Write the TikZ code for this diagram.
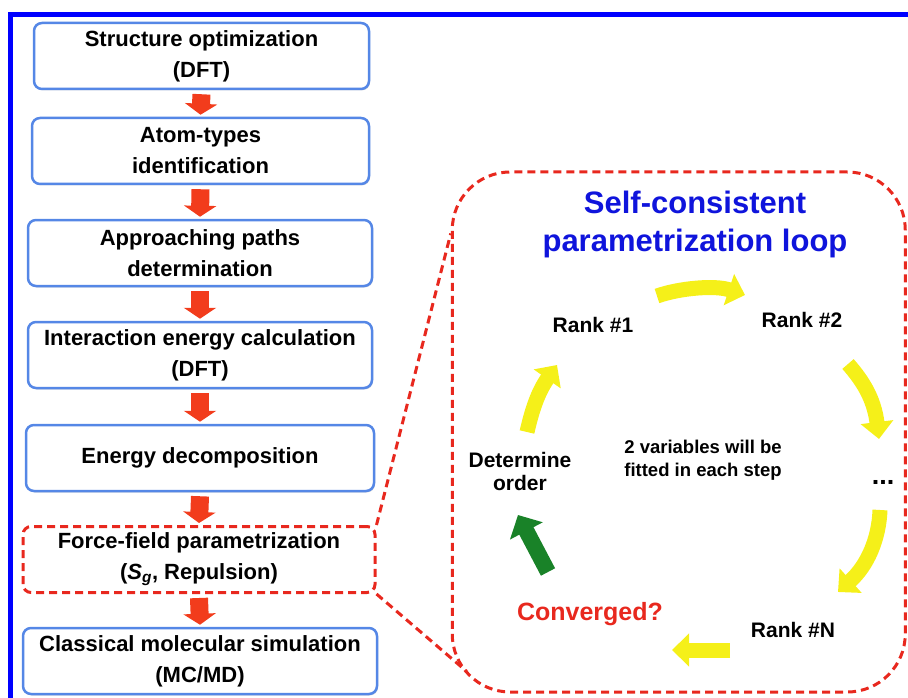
\documentclass[tikz,border=0pt]{standalone}
\usepackage{fontspec}
\setmainfont{Liberation Sans}
\usetikzlibrary{arrows.meta,shadows,calc}
\definecolor{frameblue}{RGB}{0,0,255}
\definecolor{boxblue}{RGB}{85,135,230}
\definecolor{zred}{RGB}{232,40,30}
\definecolor{ared}{RGB}{242,60,28}
\definecolor{ayellow}{RGB}{245,240,25}
\definecolor{agreen}{RGB}{25,130,40}
\definecolor{tblue}{RGB}{15,20,220}
\begin{document}
\begin{tikzpicture}[x=1pt,y=-1pt,
  stepbox/.style={line width=2.5pt, rounded corners=8pt, fill=white, minimum height=66pt,
    align=center, inner sep=0pt, font=\fontsize{22}{31}\selectfont\bfseries},
  bluebox/.style={stepbox, draw=boxblue, drop shadow={opacity=0.25, shadow xshift=1pt, shadow yshift=-1.5pt}},
  zoomdash/.style={draw=zred, line width=3pt, dash pattern=on 8pt off 5pt},
  redbox/.style={stepbox, zoomdash},
  redarrow/.style={draw=ared, line width=18pt, -{Triangle[width=32pt,length=11pt]}},
  yarrow/.style={draw=ayellow, line width=15pt, -{Triangle[width=32pt,length=17pt]}},
  garrow/.style={draw=agreen, line width=16pt, -{Triangle[width=36pt,length=18pt]}},
  looptext/.style={font=\fontsize{21}{23}\selectfont\bfseries, align=center, inner sep=0pt},
]
\useasboundingbox (0,0) rectangle (908,698);
% outer frame
\draw[frameblue, line width=5pt] (10.5,698) -- (10.5,14.5) -- (908,14.5);

% left column
\node[bluebox, minimum width=335pt] (b1) at (201.5,56) {Structure optimization\\(DFT)};
\node[bluebox, minimum width=337pt] (b2) at (200.5,151) {Atom-types\\identification};
\node[bluebox, minimum width=344pt] (b3) at (200,253) {Approaching paths\\determination};
\node[bluebox, minimum width=344pt] (b4) at (200,355) {Interaction energy calculation\\(DFT)};
\node[bluebox, minimum width=348pt] (b5) at (200,458) {Energy decomposition};
\node[redbox, minimum width=352pt] (b6) at (199,559.5) {Force-field parametrization\\(\textit{S}\textsubscript{\textit{g}}, Repulsion)};
\node[bluebox, minimum width=354pt] (b7) at (200,661) {Classical molecular simulation\\(MC/MD)};

\foreach \a/\b in {b1/b2,b2/b3,b3/b4,b4/b5,b5/b6,b6/b7}
  \draw[redarrow] ([yshift=-4pt]\a.south) -- ([yshift=2pt]\b.north);

% loop frame
\node[zoomdash, rounded corners=58pt, minimum width=453pt, minimum height=520pt, inner sep=0pt] (loop) at (678.75,432) {};
\draw[zoomdash] (b6.north east) -- ($(loop.north west)+(0,63)$);
\draw[zoomdash] (b6.south east) -- ($(loop.south west)+(16,-22)$);

% loop content
\node[font=\fontsize{31}{38}\selectfont\bfseries, text=tblue, align=center, inner sep=0pt] (title) at (695,224) {Self-consistent\\parametrization loop};
\node[looptext] (r1) at (593,325) {Rank \#1};
\node[looptext] (r2) at (802,320) {Rank \#2};
\node[looptext, font=\fontsize{27}{27}\selectfont\bfseries, anchor=base] (dots) at (883,484) {...};
\node[looptext] (rN) at (793,630) {Rank \#N};
\node[looptext, font=\fontsize{25}{30}\selectfont\bfseries, text=zred] (cv) at (590,614) {Converged?};
\node[looptext] (det) at (520,471) {Determine\\order};
\node[looptext, font=\fontsize{18.5}{23}\selectfont\bfseries] (var) at (703,460) {2 variables will be\\fitted in each step};

\draw[yarrow] ($(r1)+(64,-29)$) .. controls ($(r1)+(87,-37)$) and ($(r2)+(-87,-35)$) .. ($(r2)+(-57,-25)$);
\draw[yarrow] ($(r2)+(46,44)$) .. controls ($(r2)+(60,60)$) and ($(dots)+(-9,-84)$) .. ($(dots)+(-4,-43)$);
\draw[yarrow] ($(dots)+(-3,28)$) .. controls ($(dots)+(-4,56)$) and ($(rN)+(75,-65)$) .. ($(rN)+(45,-38)$);
\draw[yarrow] ($(rN)+(-63,20)$) -- ($(cv)+(82,36)$);
\draw[garrow] ($(cv)+(-42,-42)$) -- ($(det)+(-2,44)$);
\draw[yarrow] ($(det)+(7,-39)$) .. controls ($(det)+(12,-61)$) and ($(r1)+(-55,67)$) .. ($(r1)+(-36,40)$);
\end{tikzpicture}
\end{document}
